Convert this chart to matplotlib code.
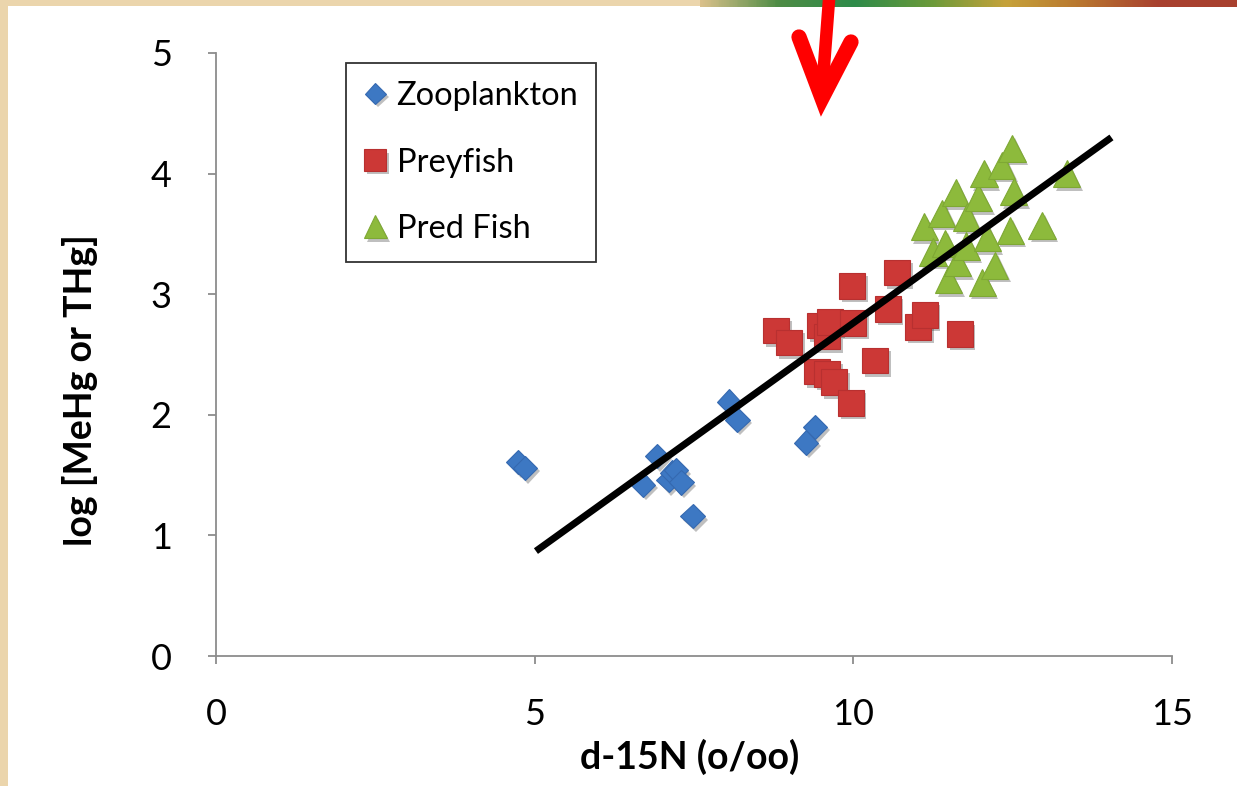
import matplotlib
matplotlib.use("Agg")
import matplotlib.pyplot as plt
import matplotlib.patheffects as pe
from matplotlib.colors import LinearSegmentedColormap
from matplotlib.lines import Line2D
import numpy as np

# data
zoo_x = [4.74, 4.85, 6.70, 6.92, 7.10, 7.16, 7.22, 7.30, 7.48, 8.05, 8.18, 9.26, 9.40]
zoo_y = [1.61, 1.56, 1.42, 1.66, 1.46, 1.52, 1.54, 1.44, 1.16, 2.11, 1.96, 1.77, 1.90]

prey_x = [8.79, 8.99, 9.43, 9.48, 9.59, 9.59, 9.63, 9.70, 9.96, 9.98, 10.00, 10.34, 10.54,
          10.69, 11.02, 11.12, 11.67]
prey_y = [2.70, 2.60, 2.36, 2.74, 2.65, 2.34, 2.77, 2.27, 2.10, 3.07, 2.76, 2.45, 2.88,
          3.18, 2.73, 2.83, 2.67]

pred_x = [11.11, 11.25, 11.39, 11.44, 11.49, 11.61, 11.63, 11.77, 11.78, 11.96, 12.02,
          12.05, 12.10, 12.22, 12.33, 12.46, 12.49, 12.52, 12.96, 13.35]
pred_y = [3.56, 3.35, 3.67, 3.42, 3.12, 3.84, 3.26, 3.40, 3.64, 3.80, 3.10,
          4.00, 3.47, 3.24, 4.07, 3.53, 4.21, 3.85, 3.57, 4.00]

fit_x = [5.02, 14.05]
fit_y = [0.87, 4.30]

labels = ['Zooplankton', 'Preyfish', 'Pred Fish']
x_ticks = [0, 5, 10, 15]
y_ticks = [0, 1, 2, 3, 4, 5]

W, H = 1237, 786
fig = plt.figure(figsize=(W / 100, H / 100), dpi=100)
fig.patch.set_facecolor('#EBD5AC')

# white slide panel
fig.add_artist(plt.Rectangle((8 / W, 0), 1, 1 - 6 / H, transform=fig.transFigure,
                             facecolor='white', edgecolor='none', zorder=0))

# coloured strip at the top right
strip = LinearSegmentedColormap.from_list('strip', ['#D9C08A', '#4E8C45', '#2E8B4A', '#6A9A3A',
                                                    '#C6A23A', '#B8742E', '#A8402E', '#A8402E'])
sax = fig.add_axes([700 / W, 1 - 7 / H, 537 / W, 7 / H])
sax.imshow(np.linspace(0, 1, 200)[None, :], cmap=strip, aspect='auto')
sax.axis('off')

ax = fig.add_axes([216 / W, 1 - 656 / H, (1172 - 216) / W, (656 - 53) / H])
ax.set_facecolor('none')

shadow = [pe.SimplePatchShadow(offset=(2, -2.5), shadow_rgbFace='k', alpha=0.25), pe.Normal()]

ax.plot(zoo_x, zoo_y, 'D', ms=12.5, color='#3D78C3', mec='#3569B0', mew=0.8,
        label=labels[0], path_effects=shadow, zorder=3)
ax.plot(prey_x, prey_y, 's', ms=18.5, color='#CC3836', mec='#B83030', mew=0.8,
        label=labels[1], path_effects=shadow, zorder=3)
ax.plot(pred_x, pred_y, '^', ms=19.5, color='#8DBA3C', mec='#7EA834', mew=0.8,
        label=labels[2], path_effects=shadow, zorder=3)

ax.plot(fit_x, fit_y, color='black', lw=5, solid_capstyle='butt', zorder=4)

ax.set_xlim(0, 15)
ax.set_ylim(0, 5)
ax.set_xticks(x_ticks)
ax.set_yticks(y_ticks)
for s in ['top', 'right']:
    ax.spines[s].set_visible(False)
for s in ['left', 'bottom']:
    ax.spines[s].set_color('#8C8C8C')
    ax.spines[s].set_linewidth(1.3)
ax.tick_params(axis='both', direction='out', color='#8C8C8C', width=1.3, length=6,
               labelsize=26, labelcolor='black')
ax.tick_params(axis='x', pad=24)
ax.tick_params(axis='y', pad=26)
for t in ax.get_xticklabels() + ax.get_yticklabels():
    t.set_family('Lato')

ax.set_xlabel('d-15N (o/oo)', fontsize=27, fontweight='bold', family='Lato', va='center')
ax.set_ylabel('log [MeHg or THg]', fontsize=27, fontweight='bold', family='Lato', va='center')
ax.xaxis.set_label_coords((690 - 216) / 956, (656 - 757) / 603)
ax.yaxis.set_label_coords((80 - 216) / 956, (656 - 390) / 603)

leg = ax.legend(loc='upper left', bbox_to_anchor=(346 / W, 1 - 63 / H),
                bbox_transform=fig.transFigure, frameon=True, fancybox=False,
                prop={'family': 'Lato', 'size': 23.5}, markerscale=0.85,
                handlelength=0.7, handletextpad=0.3, labelspacing=1.12,
                borderpad=0.55, borderaxespad=0)
leg.get_frame().set_edgecolor('black')
leg.get_frame().set_linewidth(1.3)

# red arrow
fig.add_artist(Line2D([829, 822], [H, H - 92], color='#FF0000', lw=9,
                      transform=None))
fig.add_artist(Line2D([799, 822, 851], [H - 37, H - 98, H - 42], color='#FF0000', lw=11,
                      solid_capstyle='round', solid_joinstyle='miter', transform=None))

fig.savefig('out.png', dpi=100, facecolor=fig.get_facecolor())
